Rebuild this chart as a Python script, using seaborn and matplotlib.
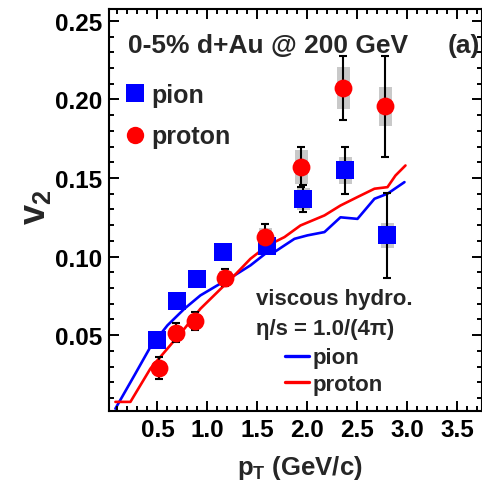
import numpy as np
import pandas as pd
import matplotlib
matplotlib.use("Agg")
import matplotlib.pyplot as plt
from matplotlib.lines import Line2D
from matplotlib.ticker import MultipleLocator, FixedLocator
import seaborn as sns

# ---- measured v2 (0-5% d+Au, 200 GeV) ----
pion_pt = [0.50, 0.70, 0.90, 1.16, 1.60, 1.96, 2.38, 2.80]
pion_v2 = [0.0466, 0.0715, 0.0860, 0.1030, 0.1070, 0.1368, 0.1550, 0.1136]
pion_stat = [0.002, 0.002, 0.002, 0.003, 0.004, 0.0085, 0.0150, 0.0270]
pion_sys = [0.003, 0.003, 0.003, 0.004, 0.005, 0.0070, 0.0085, 0.0080]

proton_pt = [0.52, 0.69, 0.88, 1.18, 1.58, 1.94, 2.36, 2.78]
proton_v2 = [0.0290, 0.0514, 0.0590, 0.0866, 0.1124, 0.1570, 0.2074, 0.1957]
proton_stat = [0.0070, 0.0060, 0.0060, 0.0056, 0.0085, 0.0130, 0.0203, 0.0320]
proton_sys = [0.004, 0.004, 0.004, 0.004, 0.006, 0.0106, 0.0133, 0.0124]

# ---- viscous hydro, eta/s = 1/(4 pi) ----
hydro_pion_pt = [0.08, 0.27, 0.43, 0.60, 0.77, 0.93, 1.10, 1.27, 1.43, 1.60,
                 1.67, 1.87, 2.00, 2.17, 2.33, 2.50, 2.67, 2.80, 2.97]
hydro_pion_v2 = [0.0032, 0.0244, 0.0425, 0.0562, 0.0668, 0.0753, 0.0817, 0.0880,
                 0.0944, 0.1029, 0.1029, 0.1113, 0.1135, 0.1156, 0.1250, 0.1240,
                 0.1368, 0.1400, 0.1474]
hydro_proton_pt = [0.08, 0.23, 0.43, 0.60, 0.77, 0.93, 1.10, 1.27, 1.43, 1.60,
                   1.77, 1.93, 2.17, 2.33, 2.50, 2.67, 2.80, 2.88, 2.98]
hydro_proton_v2 = [0.0075, 0.0075, 0.0287, 0.0414, 0.0541, 0.0668, 0.0774, 0.0880,
                   0.0986, 0.1070, 0.1124, 0.1198, 0.1262, 0.1325, 0.1379, 0.1432,
                   0.1442, 0.1516, 0.1580]

x_ticks = [0.5, 1.0, 1.5, 2.0, 2.5, 3.0, 3.5]
x_tick_labels = ["0.5", "1.0", "1.5", "2.0", "2.5", "3.0", "3.5"]
y_ticks = [0.05, 0.10, 0.15, 0.20, 0.25]
y_tick_labels = ["0.05", "0.10", "0.15", "0.20", "0.25"]

BLUE = "#0000ff"
RED = "#ff0000"
SYS_GRAY = "#c9c9c9"

sns.set_theme(style="ticks")
plt.rcParams.update({
    "font.family": ["Liberation Sans", "DejaVu Sans"],
    "font.weight": "bold",
    "mathtext.fontset": "custom",
    "mathtext.rm": "Liberation Sans:bold",
    "mathtext.bf": "Liberation Sans:bold",
    "mathtext.it": "Liberation Sans:bold",
    "xtick.direction": "in", "ytick.direction": "in",
    "xtick.top": True, "ytick.right": True,
    "xtick.major.size": 7.2, "ytick.major.size": 7.2,
    "xtick.minor.size": 3.8, "ytick.minor.size": 3.8,
    "xtick.major.width": 1.4, "ytick.major.width": 1.4,
    "xtick.minor.width": 1.4, "ytick.minor.width": 1.4,
    "xtick.minor.visible": True, "ytick.minor.visible": True,
    "xtick.color": "black", "ytick.color": "black",
    "xtick.labelsize": 17.5, "ytick.labelsize": 17.5,
    "xtick.major.pad": 5, "ytick.major.pad": 5,
    "axes.edgecolor": "black", "axes.linewidth": 1.5,
    "axes.axisbelow": False,
})

fig = plt.figure(figsize=(4.82, 4.85), dpi=100)
ax = fig.add_axes([109 / 482, 1 - 412 / 485, 372.5 / 482, 402 / 485])

pion = pd.DataFrame({"pt": pion_pt, "v2": pion_v2, "stat": pion_stat, "sys": pion_sys})
proton = pd.DataFrame({"pt": proton_pt, "v2": proton_v2, "stat": proton_stat, "sys": proton_sys})
hydro = pd.concat([
    pd.DataFrame({"pt": hydro_pion_pt, "v2": hydro_pion_v2, "species": "pion"}),
    pd.DataFrame({"pt": hydro_proton_pt, "v2": hydro_proton_v2, "species": "proton"}),
])

# systematic uncertainty boxes
for df in (pion, proton):
    ax.bar(df["pt"], 2 * df["sys"], bottom=df["v2"] - df["sys"], width=0.13,
           color=SYS_GRAY, edgecolor="none", zorder=1)

# hydro curves
sns.lineplot(data=hydro, x="pt", y="v2", hue="species", sort=False,
             palette={"pion": BLUE, "proton": RED}, linewidth=1.9,
             legend=False, ax=ax, zorder=2)

# statistical error bars
for df in (pion, proton):
    ax.errorbar(df["pt"], df["v2"], yerr=df["stat"], fmt="none", ecolor="black",
                elinewidth=1.5, capsize=3.2, capthick=1.5, zorder=3)

# data points
sns.scatterplot(data=pion, x="pt", y="v2", marker="s", s=165, color=BLUE,
                linewidth=0, ax=ax, zorder=4)
sns.scatterplot(data=proton, x="pt", y="v2", marker="o", s=165, color=RED,
                linewidth=0, ax=ax, zorder=5)

ax.set_xlim(0.016, 3.74)
ax.set_ylim(0.0017, 0.2576)
ax.xaxis.set_major_locator(FixedLocator(x_ticks))
ax.xaxis.set_minor_locator(MultipleLocator(0.1))
ax.yaxis.set_major_locator(FixedLocator(y_ticks))
ax.yaxis.set_minor_locator(MultipleLocator(0.01))
ax.set_xticklabels(x_tick_labels)
ax.set_yticklabels(y_tick_labels)

ax.set_xlabel(r"p$_{\mathrm{T}}$ (GeV/c)", fontsize=18.5, fontweight="bold")
ax.set_ylabel(r"$\mathbf{v_2}$", fontsize=26, fontweight="bold")
ax.xaxis.set_label_coords(0.513, -0.105)
ax.yaxis.set_label_coords(-0.15, 0.51)

ax.text(0.051, 0.892, "0-5% d+Au @ 200 GeV", transform=ax.transAxes,
        fontsize=19, fontweight="bold", va="baseline", ha="left")
ax.text(0.910, 0.892, "(a)", transform=ax.transAxes,
        fontsize=19, fontweight="bold", va="baseline", ha="left")
ax.text(0.395, 0.266, "viscous hydro.", transform=ax.transAxes,
        fontsize=16, fontweight="bold", va="baseline", ha="left")
ax.text(0.395, 0.1915, "\u03b7/s = 1.0/(4\u03c0)", transform=ax.transAxes,
        fontsize=16, fontweight="bold", va="baseline", ha="left")

data_handles = [
    Line2D([], [], marker="s", linestyle="none", markersize=12.8,
           markerfacecolor=BLUE, markeredgewidth=0, label="pion"),
    Line2D([], [], marker="o", linestyle="none", markersize=12.5,
           markerfacecolor=RED, markeredgewidth=0, label="proton"),
]
leg1 = ax.legend(handles=data_handles, loc="center left",
                 bbox_to_anchor=(0.047, 0.735), frameon=False,
                 prop={"size": 18, "weight": "bold"}, borderpad=0,
                 borderaxespad=0, handlelength=0.7, handletextpad=0.3,
                 labelspacing=0.7)
ax.add_artist(leg1)

hydro_handles = [
    Line2D([], [], color=BLUE, linewidth=2.4, label="pion"),
    Line2D([], [], color=RED, linewidth=2.4, label="proton"),
]
ax.legend(handles=hydro_handles, loc="center left",
          bbox_to_anchor=(0.4725, 0.099), frameon=False,
          prop={"size": 16, "weight": "bold"}, borderpad=0, borderaxespad=0,
          handlelength=1.1, handletextpad=0.15, labelspacing=0.25)

# lay out the ticks once before writing the file so the inward tick marks render
fig.canvas.draw()
for tk in (ax.xaxis.get_major_ticks() + ax.xaxis.get_minor_ticks()
           + ax.yaxis.get_major_ticks() + ax.yaxis.get_minor_ticks()):
    tk.tick1line.set_visible(True)
    tk.tick2line.set_visible(True)

fig.savefig("out.png", dpi=100)
